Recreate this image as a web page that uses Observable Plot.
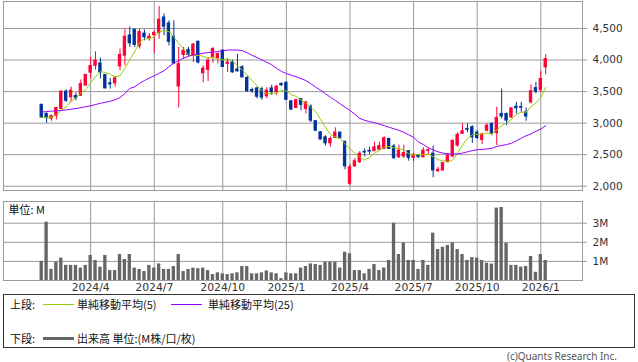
<!DOCTYPE html>
<html><head><meta charset="utf-8">
<script src="https://cdn.jsdelivr.net/npm/d3@7"></script>
<script src="https://cdn.jsdelivr.net/npm/@observablehq/plot@0.6"></script>
<style>
html,body{margin:0;padding:0;background:#fff;}
#wrap{position:relative;width:638px;height:362px;overflow:hidden;font-family:"Noto Sans CJK JP",sans-serif;}
#wrap svg{display:block;}
.lg{position:absolute;left:3px;top:294px;width:630px;height:52px;border:1px solid #333;}
.t{position:absolute;font-size:11px;line-height:12px;color:#111;white-space:nowrap;}
.ln{position:absolute;height:1px;}
.copy{position:absolute;right:21px;top:349px;font-family:"Noto Sans",sans-serif;font-size:10px;color:#555;}
</style></head><body><div id="wrap"></div>
<script>
const startWeek = "2024-01-22";
const open  = [3290,3145,3070,3115,3225,3500,3410,3430,3435,3595,3800,3910,3945,3765,3630,3630,3900,4070,4390,4480,4215,4420,4345,4395,4430,4675,4580,4370,3580,4080,4160,4070,4290,3790,3845,4045,4030,4150,3940,3960,3850,3885,3715,3525,3550,3535,3425,3550,3490,3620,3640,3345,3240,3383,3225,3260,3030,2855,2775,2680,2765,2850,2705,2040,2315,2380,2545,2560,2555,2580,2590,2750,2630,2460,2470,2555,2450,2495,2460,2560,2515,2240,2250,2380,2470,2645,2830,2905,2935,2850,2735,2880,2985,2840,3145,3145,3090,3260,3255,3170,3330,3555,3525,3885];
const high  = [3300,3165,3130,3250,3510,3530,3570,3480,3685,3770,4045,4130,4030,3770,3710,3735,4175,4490,4525,4490,4490,4475,4420,4465,4850,4730,4620,4620,4200,4200,4200,4265,4300,3910,4040,4200,4110,4160,4015,4000,4090,3910,3740,3555,3570,3570,3560,3600,3600,3640,3650,3355,3370,3385,3330,3290,3040,2865,2800,2780,2925,2855,2710,2345,2440,2550,2590,2615,2700,2700,2780,2760,2660,2650,2650,2565,2520,2500,2610,2610,2635,2300,2370,2520,2730,2850,2990,2990,2960,2880,2840,2990,3010,3250,3540,3160,3235,3330,3330,3240,3610,3645,3820,4085];
const low   = [3080,3000,3030,3050,3220,3330,3330,3355,3430,3590,3700,3840,3700,3545,3540,3570,3830,3910,4200,4200,4175,4305,4300,4100,4330,4385,4225,3935,3240,4015,4050,3960,3940,3640,3660,3950,3940,3885,3805,3790,3815,3715,3490,3470,3385,3360,3385,3440,3440,3580,3360,3200,3230,3195,3145,3010,2870,2735,2640,2620,2760,2755,2260,2010,2300,2360,2470,2500,2550,2560,2580,2580,2420,2440,2445,2395,2385,2445,2450,2490,2135,2215,2240,2370,2460,2620,2825,2850,2680,2740,2660,2860,2800,2645,3065,2960,3075,3145,3170,3030,3305,3460,3485,3765];
const close = [3090,3080,3110,3240,3500,3355,3515,3395,3620,3765,3905,3990,3805,3550,3615,3710,4080,4370,4265,4240,4445,4360,4370,4430,4640,4530,4290,3945,3935,4150,4080,4245,3960,3865,3990,4175,4095,3890,3960,3805,3820,3725,3505,3505,3420,3405,3515,3490,3575,3600,3370,3215,3365,3290,3330,3040,2880,2740,2680,2750,2850,2760,2315,2300,2395,2515,2535,2550,2615,2635,2760,2590,2445,2565,2525,2450,2500,2460,2565,2570,2250,2260,2365,2485,2720,2815,2870,2895,2775,2765,2820,2960,2830,3080,3105,3040,3235,3235,3245,3105,3505,3500,3700,4015];
const ma25  = [3175,3183,3190,3195,3200,3209,3220,3232,3245,3260,3275,3295,3315,3330,3345,3370,3405,3470,3550,3575,3630,3675,3715,3750,3790,3830,3895,3950,3990,4030,4060,4080,4095,4108,4118,4125,4135,4148,4158,4160,4158,4150,4115,4075,4040,4000,3965,3925,3870,3820,3785,3760,3735,3705,3675,3625,3570,3520,3465,3410,3360,3305,3250,3200,3140,3075,3045,3025,3005,2985,2960,2935,2910,2885,2855,2815,2775,2700,2660,2610,2575,2545,2525,2513,2510,2513,2525,2545,2565,2578,2585,2590,2600,2630,2645,2660,2680,2720,2760,2800,2830,2870,2905,2960];
const volume = [1.0,3.05,0.58,0.96,1.17,0.79,0.79,0.79,0.65,0.79,1.31,1.05,0.70,1.31,0.52,0.52,1.36,1.10,1.36,0.65,0.58,0.47,0.79,0.65,0.87,0.58,0.58,0.73,1.36,0.47,0.58,0.65,0.62,0.65,0.52,0.31,0.40,0.35,0.31,0.35,0.40,0.73,0.73,0.35,0.35,0.40,0.50,0.40,0.35,0.10,0.40,0.35,0.35,0.65,0.73,0.87,0.84,0.79,0.96,0.96,0.96,0.65,1.48,1.40,0.52,0.52,0.35,0.58,0.84,0.52,0.65,1.05,3.0,1.36,1.97,1.05,1.05,0.58,1.05,0.79,2.48,1.62,1.74,1.83,1.97,1.62,1.36,1.05,1.20,1.17,1.05,0.91,0.86,3.79,3.82,1.95,0.79,0.79,0.70,0.74,1.26,0.43,1.36,1.05];
const priceTicks = [2000,2500,3000,3500,4000,4500];
const volTicks = [1,2,3];
const legendLabels = ["上段:", "単純移動平均(5)", "単純移動平均(25)", "下段:", "出来高 単位:(M株/口/枚)"];
const unitLabel = "単位: M";
const copyright = "(c)Quants Research Inc.";

const RED = "#ff0033", BLUE = "#003399", MA5C = "#99cc00", MA25C = "#9900ff", GRID = "#9a9a9a", VOLC = "#666666";

const weeks = open.map((_, i) => d3.utcMonday.offset(new Date(startWeek + "T00:00:00Z"), i));
const rows = open.map((o, i) => ({i, date: weeks[i], open: o, high: high[i], low: low[i], close: close[i], vol: volume[i], ma25: ma25[i], col: close[i] >= o ? RED : BLUE}));
const tickIdx = rows.filter(d => d.date.getUTCDate() <= 7 && d.date.getUTCMonth() % 3 === 0).map(d => d.i);
const fmtTick = i => `${weeks[i].getUTCFullYear()}/${weeks[i].getUTCMonth() + 1}`;
const xDomain = [-7.81, 110.52];

const topPlot = Plot.plot({
  width: 638, height: 196, marginTop: 1, marginBottom: 6, marginLeft: 3, marginRight: 56,
  x: {type: "linear", domain: xDomain, axis: null},
  y: {domain: [1932, 4928], axis: null},
  color: {type: "identity"},
  style: {fontFamily: "DejaVu Sans", fontSize: "10.5px", color: "#333", background: "#fff"},
  marks: [
    Plot.ruleY(priceTicks, {stroke: GRID, strokeWidth: 1}),
    Plot.ruleX(tickIdx, {stroke: GRID, strokeWidth: 1}),
    Plot.frame({stroke: GRID}),
    Plot.axisY({anchor: "right", label: null, ticks: priceTicks, tickFormat: d3.format(","), tickSize: 4, tickPadding: 6, stroke: GRID, fill: "#333"}),
    Plot.ruleX(rows, {x: "i", y1: "low", y2: "high", stroke: "col", strokeWidth: 1}),
    Plot.rect(rows, {x1: d => d.i - 0.24, x2: d => d.i + 0.24, y1: "open", y2: "close", fill: "col", stroke: "col", strokeWidth: 1}),
    Plot.line(rows, Plot.windowY({k: 5, anchor: "end", reduce: "mean"}, {x: "i", y: "close", stroke: MA5C, strokeWidth: 1})),
    Plot.line(rows, {x: "i", y: "ma25", stroke: MA25C, strokeWidth: 1})
  ]
});

const volPlot = Plot.plot({
  width: 638, height: 98, marginTop: 5, marginBottom: 14, marginLeft: 3, marginRight: 56,
  x: {type: "linear", domain: xDomain, axis: null},
  y: {domain: [0, 4.136], axis: null},
  style: {fontFamily: "DejaVu Sans", fontSize: "10.5px", color: "#333", background: "#fff"},
  marks: [
    Plot.ruleY(volTicks, {stroke: GRID, strokeWidth: 1}),
    Plot.ruleX(tickIdx, {stroke: GRID, strokeWidth: 1}),
    Plot.rect(rows, {x1: d => d.i - 0.34, x2: d => d.i + 0.34, y1: 0, y2: "vol", fill: VOLC}),
    Plot.frame({stroke: GRID}),
    Plot.axisY({anchor: "right", label: null, ticks: volTicks, tickFormat: d => d + "M", tickSize: 4, tickPadding: 6, stroke: GRID, fill: "#333"}),
    Plot.axisX({anchor: "bottom", label: null, ticks: tickIdx, tickFormat: fmtTick, tickSize: 0, tickPadding: 3, fill: "#333", fontSize: 10.8}),
    Plot.text([unitLabel], {frameAnchor: "top-left", dx: 5, dy: 9, lineAnchor: "middle", textAnchor: "start", fontFamily: "Noto Sans CJK JP", fontSize: 11, fill: "#111"})
  ]
});

const wrap = document.getElementById("wrap");
wrap.appendChild(topPlot);
wrap.appendChild(volPlot);

const lg = document.createElement("div");
lg.className = "lg";
const add = (cls, css, text) => { const e = document.createElement("div"); e.className = cls; Object.assign(e.style, css); if (text) e.textContent = text; lg.appendChild(e); };
add("t", {left: "6px", top: "3px"}, legendLabels[0]);
add("ln", {left: "39px", top: "9px", width: "31px", background: MA5C});
add("t", {left: "73px", top: "3px"}, legendLabels[1]);
add("ln", {left: "167px", top: "9px", width: "31px", background: MA25C});
add("t", {left: "204px", top: "3px"}, legendLabels[2]);
add("t", {left: "6px", top: "37px"}, legendLabels[3]);
add("ln", {left: "39px", top: "42px", width: "31px", height: "3px", background: VOLC});
add("t", {left: "73px", top: "37px"}, legendLabels[4]);
wrap.appendChild(lg);

const cp = document.createElement("div");
cp.className = "copy";
cp.textContent = copyright;
wrap.appendChild(cp);
</script></body></html>
